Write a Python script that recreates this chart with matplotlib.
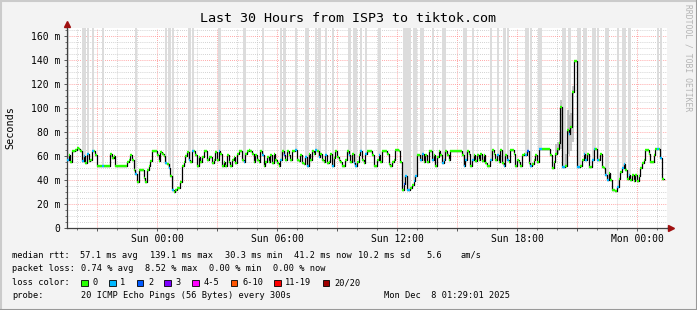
import matplotlib
matplotlib.use("Agg")
import matplotlib.pyplot as plt
from matplotlib.patches import Rectangle
from matplotlib.lines import Line2D
import numpy as np

W, H = 697, 310
MONO = "DejaVu Sans Mono"

# median rtt (ms), one value per 5 min step, Sat 19:30 -> Mon 01:15
rtt_a = [57, 61, 55, 64, 64, 65, 67, 66, 64, 56, 60, 54, 62, 56, 57, 64, 64, 61, 52, 52,
         52, 52, 52, 52, 52, 52, 62, 58, 60, 52, 52, 52, 52, 52, 52, 52, 55, 57, 61, 57,
         48, 45, 38, 48, 48, 48, 42, 38, 48, 52, 56, 64, 64, 64, 61, 56, 63, 62, 60, 54]
rtt_b = [53, 50, 43, 32, 30.3, 32, 33, 33, 38, 52, 55, 60, 63, 57, 55, 64, 64, 61, 52, 59,
         55, 59, 64, 64, 57, 59, 59, 54, 57, 63, 57, 64, 62, 52, 55, 52, 61, 55, 52, 57,
         59, 54, 62, 64, 64, 57, 55, 62, 64, 65, 64, 62, 55, 61, 57, 55, 64, 61, 52, 55]
rtt_c = [59, 55, 61, 54, 62, 57, 54, 52, 57, 64, 61, 57, 64, 61, 57, 64, 64, 65, 57, 56,
         61, 54, 53, 59, 52, 62, 57, 64, 62, 65, 64, 59, 62, 57, 55, 61, 54, 55, 62, 52,
         58, 64, 59, 57, 55, 52, 52, 57, 64, 61, 55, 62, 54, 52, 55, 61, 64, 57, 54, 62]
rtt_d = [64, 64, 64, 61, 52, 52, 57, 61, 55, 64, 64, 64, 62, 53, 52, 55, 57, 65, 65, 64,
         55, 32, 37, 43, 32, 32, 33, 36, 39, 43, 61, 61, 57, 62, 55, 61, 55, 64, 64, 57,
         61, 52, 59, 64, 61, 54, 57, 64, 61, 57, 64, 64, 64, 64, 64, 64, 64, 61, 52, 57]
rtt_e = [64, 62, 52, 57, 61, 56, 61, 57, 62, 56, 61, 54, 52, 52, 57, 65, 62, 57, 61, 55,
         65, 54, 52, 61, 57, 55, 65, 65, 62, 52, 57, 55, 52, 61, 62, 61, 64, 54, 52, 53,
         57, 61, 55, 66, 66, 66, 66, 66, 66, 66, 61, 50, 55, 62, 66, 71, 101, 51, 51, 52]
rtt_f = [82, 78, 84, 113, 139.1, 139, 51, 51, 52, 57, 62, 57, 62, 51, 51, 57, 66, 66, 57, 57,
         62, 51, 50, 44, 40, 46, 40, 32, 32, 31, 34, 41, 47, 50, 53, 48, 41, 44, 40, 44,
         39, 44, 39, 43, 50, 54, 57, 65, 65, 62, 55, 55, 61, 66, 66, 66, 58, 41.2]
median_rtt = rtt_a + rtt_b + rtt_c + rtt_d + rtt_e + rtt_f

# steps with lost pings
loss_one = [0, 9, 10, 12, 15, 21, 41, 59, 61, 63, 73, 75, 91, 106, 117, 128, 137, 143, 144,
            149, 151, 155, 159, 169, 172, 173, 176, 179, 187, 203, 204, 205, 208, 209, 212,
            213, 219, 225, 226, 238, 239, 243, 254, 258, 262, 264, 275, 278, 283, 284, 297,
            298, 301, 306, 307, 310, 311, 315, 316, 318, 323, 324, 330, 333, 334, 337, 354, 356]
loss_two = [130, 202, 276]

# smoke around the spikes
smoke_idx = [293, 294, 295, 296, 299, 300, 301, 302, 303]
smoke_lo = [60, 62, 64, 66, 51, 62, 60, 64, 72]
smoke_hi = [70, 72, 80, 107, 62, 98, 94, 96, 118]

tick_hours = [0, 6, 12, 18, 24]
tick_labels = ["Sun 00:00", "Sun 06:00", "Sun 12:00", "Sun 18:00", "Mon 00:00"]

loss_names = ["0", "1", "2", "3", "4-5", "6-10", "11-19", "20/20"]
loss_colors = ["#26ff00", "#00b8ff", "#0059ff", "#7e00ff", "#ff00ff", "#ff5500", "#ff0000", "#a00000"]

t_start = -4.5   # hours relative to Sun 00:00
step = 5 / 60.0
ymax = 200 / 1.2

n = len(median_rtt)
t = t_start + np.arange(n) * step
v = np.array(median_rtt, dtype=float)
loss = np.zeros(n, dtype=int)
loss[loss_one] = 1
loss[loss_two] = 2


def fx(x):
    return x / W


def fy(y):
    return 1 - y / H


fig = plt.figure(figsize=(W / 100, H / 100), dpi=100, facecolor="#f3f3f3")
# 3d-ish frame
fig.add_artist(Line2D([0, 1], [fy(0.5), fy(0.5)], color="#cbcbcb", lw=1.5))
fig.add_artist(Line2D([fx(0.5), fx(0.5)], [0, 1], color="#cbcbcb", lw=1.5))
fig.add_artist(Line2D([0, 1], [fy(H - 0.5), fy(H - 0.5)], color="#999999", lw=1.5))
fig.add_artist(Line2D([fx(W - 0.5), fx(W - 0.5)], [0, 1], color="#999999", lw=1.5))

ax = fig.add_axes([fx(67), fy(228), 600 / W, 200 / H])
ax.set_facecolor("white")
ax.set_xlim(t_start, t_start + 30)
ax.set_ylim(0, ymax)

# grid
major_x = np.arange(-3, 25, 3)
minor_x = np.arange(-4, 26, 1)
ax.set_xticks(major_x)
ax.set_xticklabels([tick_labels[tick_hours.index(h)] if h in tick_hours else "" for h in major_x])
ax.set_xticks(minor_x, minor=True)
ax.set_yticks(np.arange(0, 161, 20))
ax.set_yticklabels(["0"] + ["%d m" % y for y in range(20, 161, 20)])
ax.set_yticks(np.arange(0, 166, 5), minor=True)
ax.grid(which="minor", color="#c4c4c4", lw=0.6, linestyle=(0, (1, 1.5)))
ax.grid(which="major", color="#ff8a8a", lw=0.6, linestyle=(0, (1, 1.5)))
ax.set_axisbelow(True)

for s in ["top", "right"]:
    ax.spines[s].set_visible(False)
for s in ["left", "bottom"]:
    ax.spines[s].set_color("#404040")
    ax.spines[s].set_linewidth(0.9)
ax.tick_params(which="major", length=2, width=0.6, color="#404040", pad=3,
               labelsize=7, labelfontfamily=MONO)
ax.tick_params(which="minor", length=1.2, width=0.5, color="#404040")
ax.tick_params(axis="x", which="major", pad=2)

# axis arrows
ax.plot([t_start, t_start], [ymax, ymax * 1.015], color="#404040", lw=0.9, clip_on=False)
ax.plot([t_start], [ymax * 1.02], marker="^", ms=4, color="#a01010", clip_on=False)
ax.plot([t_start + 30, t_start + 30.2], [0, 0], color="#404040", lw=0.9, clip_on=False)
ax.plot([t_start + 30.2], [0], marker=">", ms=4, color="#a01010", clip_on=False)

# lost-ping columns
li = np.where(loss > 0)[0]
ax.bar(t[li] - step * 0.2, ymax - v[li], bottom=v[li], width=step * 1.4, align="edge",
       color="#dcdcdc", lw=0, zorder=2)

# smoke
si = np.array(smoke_idx)
ax.bar(t[si], np.array(smoke_hi) - np.array(smoke_lo), bottom=smoke_lo, width=step,
       align="edge", color="#9a9a9a", alpha=0.55, lw=0, zorder=3)

# median line
ax.step(np.append(t, t[-1] + step), np.append(v, v[-1]), where="post",
        color="black", lw=0.9, zorder=4)
ax.hlines(v, t, t + step, colors=[loss_colors[l] for l in loss], lw=1.7, zorder=5)

# texts
fig.text(fx(348.5), fy(19), "Last 30 Hours from ISP3 to tiktok.com", ha="center",
         va="center", family=MONO, fontsize=9.6)
fig.text(fx(10), fy(128), "Seconds", rotation=90, ha="center", va="center",
         family=MONO, fontsize=7.3)
fig.text(fx(688), fy(4), "RRDTOOL / TOBI OETIKER", rotation=-90, ha="center", va="top",
         family=MONO, fontsize=5.8, color="#b4b4b4")

fs = 6.25
rows = [
    (255, [(12.3, "median rtt:"), (80, "57.1 ms avg"), (150, "139.1 ms max"),
           (225, "30.3 ms min"), (294.3, "41.2 ms now"), (358.3, "10.2 ms sd"),
           (426.7, "5.6"), (460.7, "am/s")]),
    (268.5, [(12.3, "packet loss:"), (80.7, "0.74 % avg"), (145, "8.52 % max"),
             (209.3, "0.00 % min"), (273.3, "0.00 % now")]),
    (282.5, [(12.3, "loss color:")]),
    (296, [(12.3, "probe:"), (80.7, "20 ICMP Echo Pings (56 Bytes) every 300s")]),
]
for y, items in rows:
    for x, s in items:
        fig.text(fx(x), fy(y), s, ha="left", va="center", family=MONO, fontsize=fs)
fig.text(fx(510), fy(296), "Mon Dec  8 01:29:01 2025", ha="right", va="center",
         family=MONO, fontsize=fs)

sw_x = [81, 109, 136.7, 164.3, 192, 230.7, 274, 322.7]
for x, name, c in zip(sw_x, loss_names, loss_colors):
    fig.add_artist(Rectangle((fx(x), fy(286)), 6.5 / W, 6.5 / H, transform=fig.transFigure,
                             facecolor=c, edgecolor="black", lw=0.6))
    fig.text(fx(x + 11.3), fy(282.5), name, ha="left", va="center", family=MONO, fontsize=fs)

fig.savefig("out.png", dpi=100, facecolor=fig.get_facecolor())
